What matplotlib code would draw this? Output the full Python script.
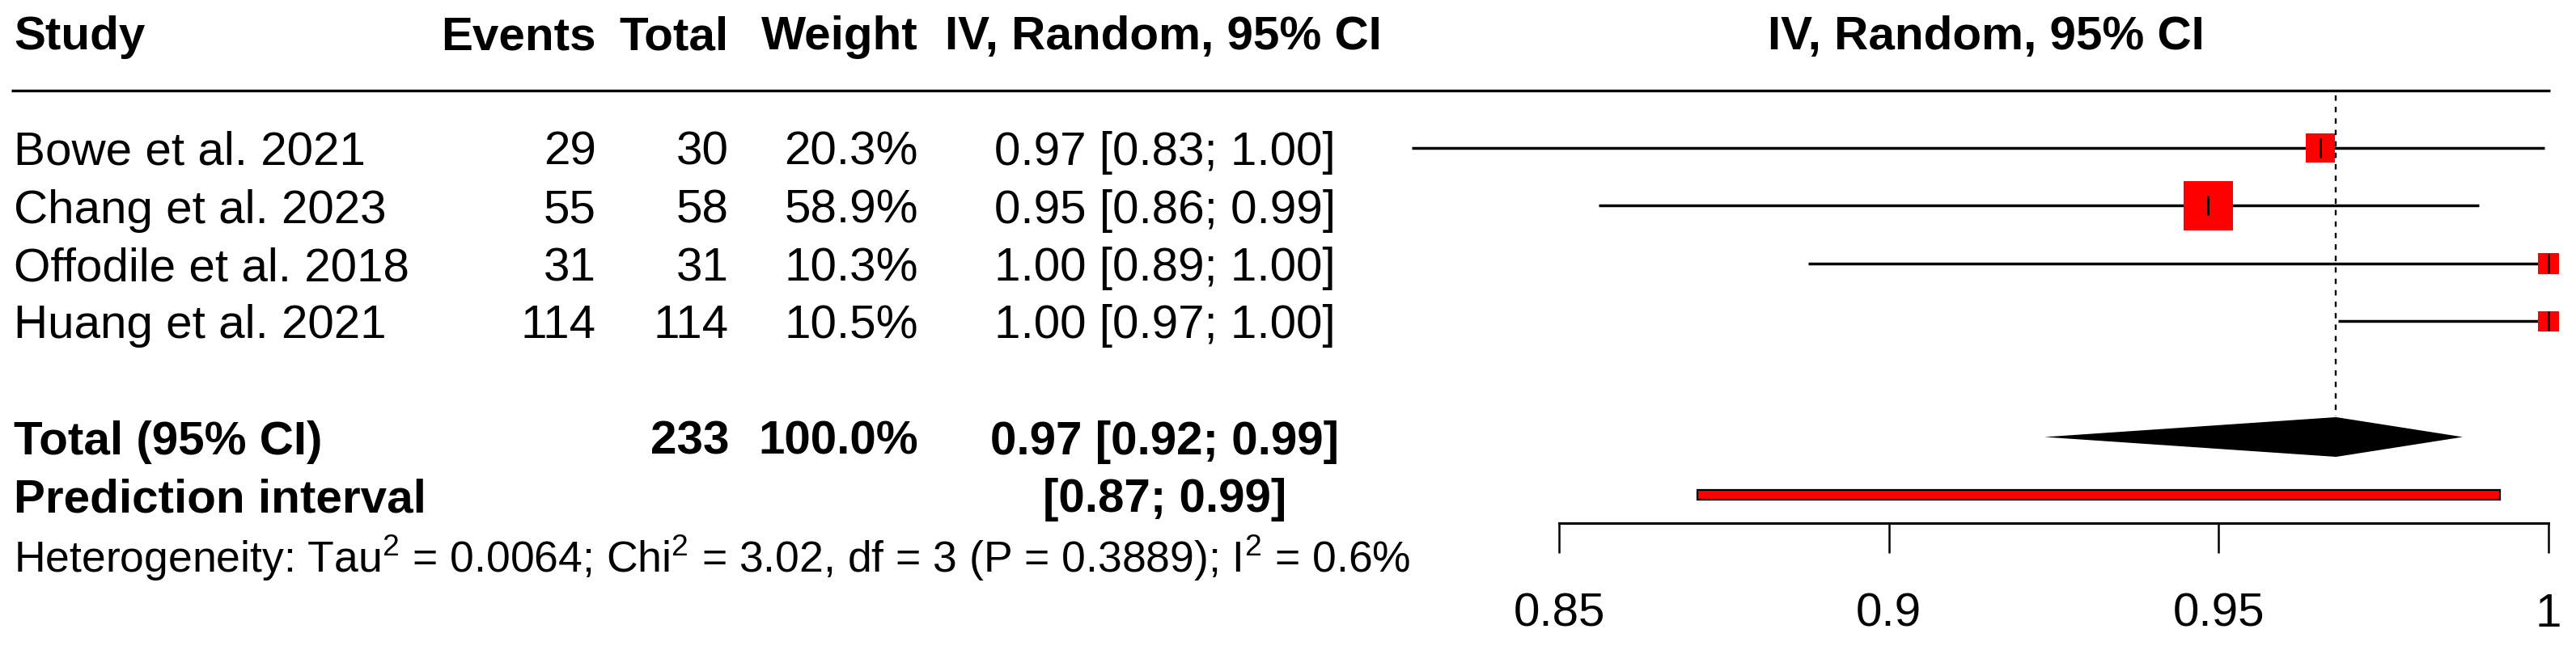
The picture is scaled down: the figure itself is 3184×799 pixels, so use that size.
import numpy as np
import matplotlib
matplotlib.use('Agg')
import matplotlib.pyplot as plt

plt.rcParams['font.family'] = 'Liberation Sans'
plt.rcParams['mathtext.fontset'] = 'custom'
plt.rcParams['mathtext.rm'] = 'Liberation Sans'

# study data
studies = ['Bowe et al. 2021', 'Chang et al. 2023', 'Offodile et al. 2018', 'Huang et al. 2021']
events = [29, 55, 31, 114]
totals = [30, 58, 31, 114]
weights = [20.3, 58.9, 10.3, 10.5]
est = [0.9654, 0.9484, 1.0, 1.0]
lower = [0.8277, 0.8560, 0.8878, 0.9681]
upper = [0.9994, 0.9895, 1.0, 1.0]

# pooled results
pooled_est = 0.9678
pooled_lower = 0.9236
pooled_upper = 0.9870
pooled_total = 233
pred_lower = 0.8710
pred_upper = 0.9927
het_text = (r'Heterogeneity: Tau$^2$ = 0.0064; Chi$^2$ = 3.02, df = 3 '
            r'(P = 0.3889); I$^2$ = 0.6%')

xticks = [0.85, 0.9, 0.95, 1.0]
xtick_labels = ['0.85', '0.9', '0.95', '1']

W, H = 3184, 799
fs = 42

fig = plt.figure(figsize=(W / 100, H / 100), dpi=100)

# rows: y pixel = 40 + 71.5 * row
row0, rowh = 40, 71.5
tx = fig.add_axes([0, 0, 1, 1])
tx.set_xlim(0, W)
tx.set_ylim((H - row0) / rowh, -row0 / rowh)
tx.axis('off')

def ci(e, lo, hi):
    return f'{e:.2f} [{lo:.2f}; {hi:.2f}]'

# header
tx.text(17, 0, 'Study', fontsize=fs, fontweight='bold', va='center_baseline')
tx.text(737, 0, 'Events', fontsize=fs, fontweight='bold', ha='right', va='center_baseline')
tx.text(901, 0, 'Total', fontsize=fs, fontweight='bold', ha='right', va='center_baseline')
tx.text(1135, 0, 'Weight', fontsize=fs, fontweight='bold', ha='right', va='center_baseline')
tx.text(1438, 0, 'IV, Random, 95% CI', fontsize=fs, fontweight='bold', ha='center', va='center_baseline')
tx.text(2455, 0, 'IV, Random, 95% CI', fontsize=fs, fontweight='bold', ha='center', va='center_baseline')
tx.plot([14, 3152], [1, 1], color='black', lw=2.4, solid_capstyle='butt')

for i, name in enumerate(studies):
    r = 2 + i
    tx.text(17, r, name, fontsize=fs, va='center_baseline')
    tx.text(737, r, str(events[i]), fontsize=fs, ha='right', va='center_baseline')
    tx.text(901, r, str(totals[i]), fontsize=fs, ha='right', va='center_baseline')
    tx.text(1135, r, f'{weights[i]:.1f}%', fontsize=fs, ha='right', va='center_baseline')
    tx.text(1440, r, ci(est[i], lower[i], upper[i]), fontsize=fs, ha='center', va='center_baseline')

tx.text(17, 7, 'Total (95% CI)', fontsize=fs, fontweight='bold', va='center_baseline')
tx.text(901, 7, str(pooled_total), fontsize=fs, fontweight='bold', ha='right', va='center_baseline')
tx.text(1135, 7, f'{sum(weights):.1f}%', fontsize=fs, fontweight='bold', ha='right', va='center_baseline')
tx.text(1440, 7, ci(pooled_est, pooled_lower, pooled_upper), fontsize=fs, fontweight='bold',
        ha='center', va='center_baseline')
tx.text(17, 8, 'Prediction interval', fontsize=fs, fontweight='bold', va='center_baseline')
tx.text(1440, 8, f'[{pred_lower:.2f}; {pred_upper:.2f}]', fontsize=fs, fontweight='bold',
        ha='center', va='center_baseline')
tx.text(17, 9, het_text, fontsize=38.5, va='center_baseline')

# forest panel: 0.85 -> px 1927, 1.0 -> px 3150
ppu = (3150 - 1927) / 0.15
ax = fig.add_axes([1700 / W, (H - 647) / H, 1484 / W, 647 / H])
ax.patch.set_visible(False)
ax.set_xlim(0.85 - (1927 - 1700) / ppu, 1.0 + (3184 - 3150) / ppu)
ax.set_ylim((647 - row0) / rowh, -row0 / rowh)

rows = np.arange(len(studies)) + 2
ax.vlines(pooled_est, 1.09, 6.64, color='black', lw=1.7, linestyles=(0, (2.8, 3.2)))
ax.hlines(rows, lower, upper, color='black', lw=2.5)
side = 8.0 * np.sqrt(weights) * 0.72
ax.scatter(est, rows, s=side ** 2, marker='s', color='red', linewidths=0, zorder=3)
ax.scatter(est, rows, s=17 ** 2, marker='|', color='black', linewidths=2.0, zorder=4)

h = 0.343
ax.fill([pooled_lower, pooled_est, pooled_upper, pooled_est], [7, 7 - h, 7, 7 + h],
        color='black', lw=0)
ax.barh(8, pred_upper - pred_lower, left=pred_lower, height=0.18, color='red',
        edgecolor='black', linewidth=1.6)

for s in ['top', 'right', 'left']:
    ax.spines[s].set_visible(False)
ax.spines['bottom'].set_bounds(0.85, 1.0)
ax.spines['bottom'].set_linewidth(2.2)
ax.set_yticks([])
ax.set_xticks(xticks)
ax.set_xticklabels(xtick_labels, fontsize=fs)
ax.tick_params(axis='x', length=26.6, width=1.8, pad=35)

fig.savefig('out.png', dpi=100)
